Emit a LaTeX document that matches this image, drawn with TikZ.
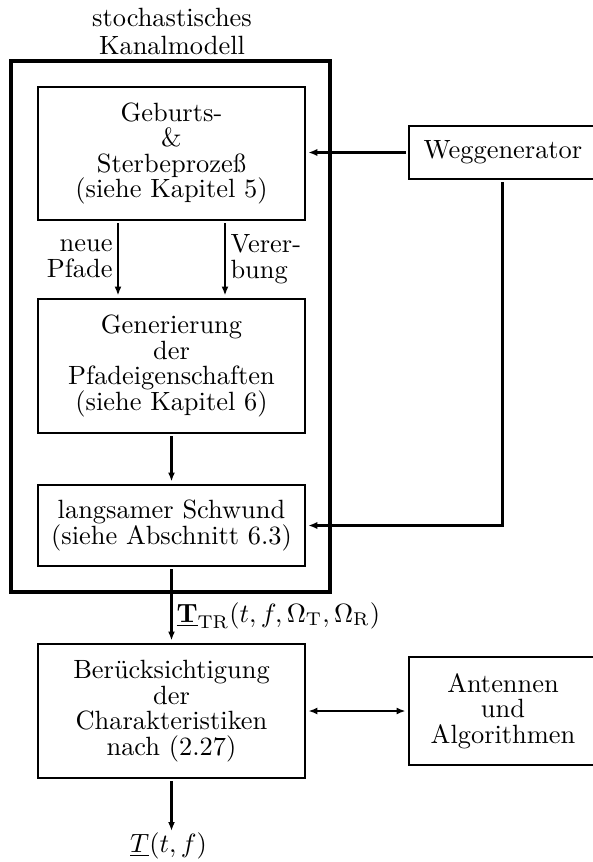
\documentclass[tikz,border=0pt]{standalone}
\usetikzlibrary{arrows.meta}
\begin{document}
\begin{tikzpicture}[x=0.3788pt,y=-0.3788pt,scale=2.64,
  every node/.style={transform shape,font=\fontsize{10}{9.7}\selectfont,align=center,inner sep=0pt},
  blk/.style={draw,line width=2.6pt},
  outerbox/.style={draw,line width=4pt},
  arr/.style={line width=2.2pt,-{Latex[length=9pt,width=7pt]}},
  thickarr/.style={line width=3pt,-{Latex[length=9pt,width=7.5pt]}},
  dblarr/.style={line width=2.2pt,{Latex[length=9pt,width=7pt]}-{Latex[length=9pt,width=7pt]}}]
\useasboundingbox (0,0) rectangle (592,862);
% title and outer frame
\node[anchor=south,font=\fontsize{10}{10.5}\selectfont] (title) at (172,55.5) {stochastisches\\Kanalmodell};
\node[outerbox,minimum width=120.8pt,minimum height=201.1pt] (outer) at (170.5,326.5) {};
% blocks
\node[blk,minimum width=101.1pt,minimum height=50.4pt] (gb) at (171.5,153.5)
  {Geburts-\\\&\\Sterbeproze\ss\\(siehe Kapitel 5)};
\node[blk,minimum width=101.1pt,minimum height=50.8pt] (gen) at (171.5,366)
  {Generierung\\der\\Pfadeigenschaften\\(siehe Kapitel 6)};
\node[blk,minimum width=101.1pt,minimum height=30.7pt] (ls) at (171.5,525.5)
  {langsamer Schwund\\(siehe Abschnitt 6.3)};
\node[blk,minimum width=101.1pt,minimum height=50.8pt] (ber) at (171.5,711)
  {Ber\"ucksichtigung\\der\\Charakteristiken\\nach (2.27)};
\node[blk,minimum width=71.2pt,minimum height=20.1pt] (weg) at (503,152.5) {Weggenerator};
\node[blk,minimum width=71.2pt,minimum height=40.9pt] (ant) at (503,711) {Antennen\\und\\Algorithmen};
% coordinates
\coordinate (xa) at (118,0);
\coordinate (xb) at (225,0);
\coordinate (out) at (171.5,831);
% connectors
\draw[thickarr] (weg.west) -- (weg.west -| gb.east);
\draw[thickarr] (weg.south) -- (weg.south |- ls.east) -- (ls.east);
\draw[arr] (gb.south -| xa) -- (gen.north -| xa);
\draw[arr] (gb.south -| xb) -- (gen.north -| xb);
\draw[arr] (gen.south) -- (ls.north);
\draw[arr] (ls.south) -- (ber.north);
\draw[dblarr] (ber.east) -- (ant.west);
\draw[arr] (ber.south) -- (out);
% labels
\node[anchor=east,align=right] (lneu) at (113,259) {neue\\Pfade};
\node[anchor=west,align=left] (lver) at (230,259) {Verer-\\bung};
\node[anchor=base west] (ltr) at (176,622)
  {$\underline{\mathbf{T}}_{\mathrm{TR}}(t,f,\Omega_{\mathrm{T}},\Omega_{\mathrm{R}})$};
\node[anchor=base] (lt) at (168.5,852) {$\underline{T}(t,f)$};
\end{tikzpicture}
\end{document}
